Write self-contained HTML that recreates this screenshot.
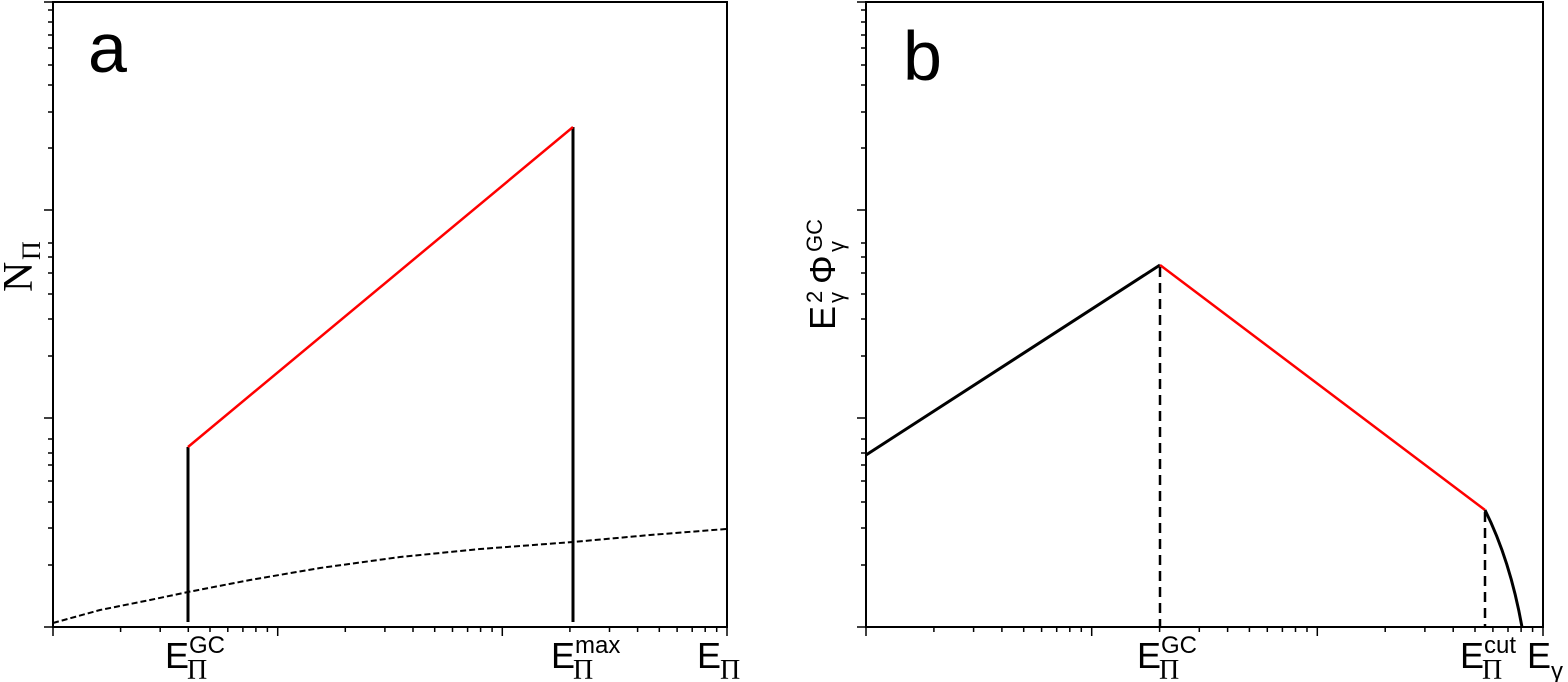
<!DOCTYPE html>
<html><head><meta charset="utf-8"><style>
html,body{margin:0;padding:0;background:#fff}
svg{display:block}
text{font-family:"Liberation Sans",sans-serif;fill:#000}
.s{font-family:"Liberation Serif",serif}
</style></head><body>
<svg width="1568" height="682" viewBox="0 0 1568 682" xmlns="http://www.w3.org/2000/svg">
<g stroke="#000" stroke-width="1.5" fill="none">
<path d="M44,2H53M44,210H53M44,418H53M44,627H53
M48,10H53M48,22H53M48,35H53M48,48H53M48,65H53M48,85H53M48,112H53M48,148H53
M48,243H53M48,257H53M48,273H53M48,294H53M48,319H53M48,356H53
M48,439H53M48,453H53M48,465H53M48,481H53M48,502H53M48,528H53M48,565H53"/>
<path d="M857,2H866M857,210H866M857,418H866M857,627H866
M861,10H866M861,22H866M861,35H866M861,48H866M861,65H866M861,85H866M861,112H866M861,148H866
M861,243H866M861,257H866M861,273H866M861,294H866M861,319H866M861,356H866
M861,439H866M861,453H866M861,465H866M861,481H866M861,502H866M861,528H866M861,565H866"/>
<path d="M53,627V636M277.7,627V636M502.3,627V636M727,627V636
M120.6,627V632M160.2,627V632M188.3,627V632M210,627V632M227.8,627V632M242.9,627V632M255.9,627V632M267.4,627V632
M345.3,627V632M384.9,627V632M413,627V632M434.7,627V632M452.5,627V632M467.6,627V632M480.6,627V632M492.1,627V632
M569.9,627V632M609.5,627V632M637.6,627V632M659.3,627V632M677.1,627V632M692.2,627V632M705.2,627V632M716.7,627V632"/>
<path d="M866,627V636M1091.7,627V636M1317.3,627V636M1543,627V636
M933.9,627V632M973.6,627V632M1001.9,627V632M1023.7,627V632M1041.6,627V632M1056.7,627V632M1069.8,627V632M1081.3,627V632
M1159.6,627V632M1199.3,627V632M1227.6,627V632M1249.4,627V632M1267.3,627V632M1282.4,627V632M1295.5,627V632M1307,627V632
M1385.2,627V632M1424.9,627V632M1453.2,627V632M1475,627V632M1492.9,627V632M1508,627V632M1521.1,627V632M1532.6,627V632"/>
</g>
<g stroke="#000" stroke-width="2" fill="none">
<rect x="53" y="2" width="674" height="625"/>
<rect x="866" y="2" width="677" height="625"/>
</g>
<!-- panel a -->
<line x1="188" y1="447" x2="188" y2="622" stroke="#000" stroke-width="3"/>
<line x1="573" y1="127" x2="573" y2="622" stroke="#000" stroke-width="3"/>
<line x1="188" y1="447" x2="573" y2="127" stroke="#f00" stroke-width="2.5"/>
<polyline points="53,623 100,610 150,600 188,592 250,580 320,568 400,557 480,549 573,542 650,535 726,529" fill="none" stroke="#000" stroke-width="2" stroke-dasharray="6,3"/>
<text x="88" y="72" font-size="70">a</text>
<g transform="translate(32,292) rotate(-90)">
<text x="0" y="0" font-size="42" class="s">N</text>
<text x="32" y="8" font-size="26" class="s">Π</text>
</g>
<!-- panel b -->
<line x1="866" y1="455" x2="1160" y2="265" stroke="#000" stroke-width="3"/>
<line x1="1160" y1="265" x2="1485" y2="510" stroke="#f00" stroke-width="2.5"/>
<path d="M1485,510 Q1510,560 1522,627" fill="none" stroke="#000" stroke-width="3"/>
<line x1="1160" y1="267" x2="1160" y2="627" stroke="#000" stroke-width="2.5" stroke-dasharray="10,6"/>
<line x1="1485" y1="512" x2="1485" y2="627" stroke="#000" stroke-width="2.5" stroke-dasharray="10,6"/>
<text x="903" y="80" font-size="70">b</text>
<g transform="translate(835,330) rotate(-90)">
<text x="0" y="0" font-size="36">E</text>
<text x="27" y="-13" font-size="22">2</text>
<text x="27" y="9" font-size="22">γ</text>
<text x="46" y="0" font-size="36">Φ</text>
<text x="78" y="-13" font-size="22">GC</text>
<text x="78" y="9" font-size="22">γ</text>
</g>
<!-- x labels -->
<g font-size="36">
<text x="165" y="668">E</text><text x="189" y="653" font-size="24">GC</text><text x="187" y="679" font-size="28" class="s">Π</text>
<text x="551" y="668">E</text><text x="575" y="653" font-size="24">max</text><text x="573" y="679" font-size="28" class="s">Π</text>
<text x="697" y="668">E</text><text x="720" y="679" font-size="28" class="s">Π</text>
<text x="1137" y="668">E</text><text x="1161" y="653" font-size="24">GC</text><text x="1159" y="679" font-size="28" class="s">Π</text>
<text x="1460" y="668">E</text><text x="1484" y="653" font-size="24">cut</text><text x="1482" y="679" font-size="28" class="s">Π</text>
<text x="1527" y="668">E</text><text x="1551" y="679" font-size="24">γ</text>
</g>
</svg>
</body></html>
